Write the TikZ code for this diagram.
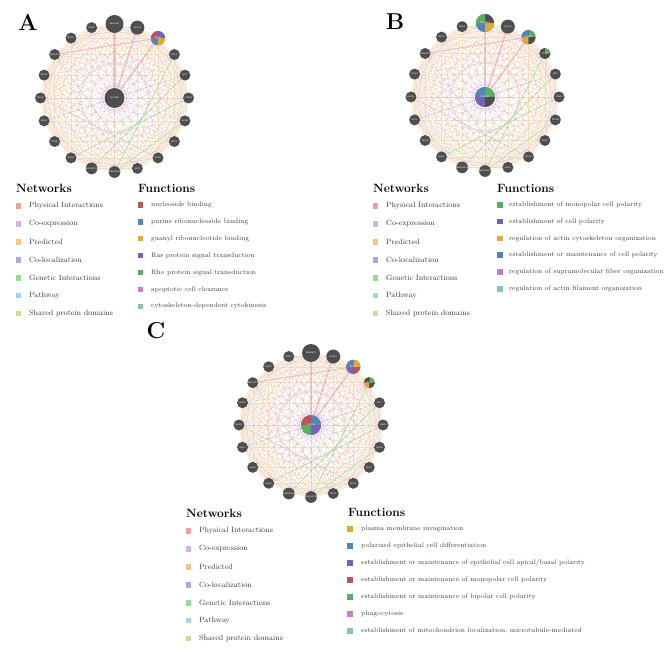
\documentclass[tikz,border=0pt]{standalone}
\usepackage{tikz}
\usetikzlibrary{backgrounds}
\definecolor{netgrey}{HTML}{4E4E4E}
\definecolor{legtext}{HTML}{3A3A3A}
% network colours
\definecolor{cPhys}{HTML}{E9A3A3}
\definecolor{cCoexp}{HTML}{D3B5DB}
\definecolor{cPred}{HTML}{F2C48C}
\definecolor{cColoc}{HTML}{A4ACDB}
\definecolor{cGenet}{HTML}{92DE8E}
\definecolor{cPath}{HTML}{9ED8E2}
\definecolor{cShared}{HTML}{DCD39C}
% function colours
\definecolor{fRed}{HTML}{B5575A}
\definecolor{fBlue}{HTML}{5585B5}
\definecolor{fOrange}{HTML}{E3A83A}
\definecolor{fPurple}{HTML}{7462B5}
\definecolor{fGreen}{HTML}{5AAE61}
\definecolor{fPink}{HTML}{C77FC4}
\definecolor{fTeal}{HTML}{83C3C0}

\begin{document}
\begin{tikzpicture}
      [x = 1pt, y = -1pt,
      edge/.style = {line width = 0.5, draw opacity = 0.5},
      gnode/.style = {
         circle,
         fill = netgrey,
         text = white,
         inner sep = 0pt,
         minimum size = 11pt,
         font = \sffamily\fontsize{2.2}{2.5}\selectfont
      },
      fnpie/.style n args = {4}{path picture = {
         \fill[#1] (path picture bounding box.center) -- ++(0:12pt) arc[start angle = 0, end angle = 90, radius = 12pt] -- cycle;
         \fill[#2] (path picture bounding box.center) -- ++(90:12pt) arc[start angle = 90, end angle = 180, radius = 12pt] -- cycle;
         \fill[#3] (path picture bounding box.center) -- ++(180:12pt) arc[start angle = 180, end angle = 270, radius = 12pt] -- cycle;
         \fill[#4] (path picture bounding box.center) -- ++(270:12pt) arc[start angle = 270, end angle = 360, radius = 12pt] -- cycle;
      }},
      piea2/.style = {fnpie = {fPurple}{fRed}{fBlue}{fOrange}},
      pieb0/.style = {fnpie = {netgrey}{fGreen}{fBlue}{fOrange}},
      pieb2/.style = {fnpie = {fGreen}{fBlue}{fOrange}{netgrey}},
      pieb3/.style = {fnpie = {fGreen}{netgrey}{netgrey}{netgrey}},
      piebc/.style = {fnpie = {fGreen}{fBlue}{fPurple}{netgrey}},
      piec2/.style = {fnpie = {fOrange}{fBlue}{fPurple}{fRed}},
      piec3/.style = {fnpie = {fGreen}{netgrey}{fOrange}{netgrey}},
      piecc/.style = {fnpie = {fBlue}{fRed}{fGreen}{fPurple}},
      square/.style = {fill = #1, inner sep = 0pt, minimum size = 5.5pt},
      title/.style = {anchor = west, inner sep = 0pt, font = \bfseries\fontsize{12}{14}\selectfont},
      netitem/.style = {anchor = west, inner sep = 0pt, text = legtext, font = \fontsize{7.6}{9}\selectfont},
      fnitem/.style = {anchor = west, inner sep = 0pt, text = legtext, font = \fontsize{6.6}{8}\selectfont},
      panel/.style = {inner sep = 0pt, font = \bfseries\fontsize{23}{26}\selectfont}]

      \useasboundingbox (0, 0) rectangle (669, 655);

      % panel letters
      \node[panel] (labA) at (28, 22) {A};
      \node[panel] (labB) at (395, 22) {B};
      \node[panel] (labC) at (156, 331) {C};

      % the three networks
      \foreach \p/\cx/\cy/\rr in {a/114.5/98/74, b/485/97/74, c/311/425/72} {
         \begin{scope}[shift = {(\cx, \cy)}]
            \node[gnode, minimum size = 20pt, pie\p c/.try] (\p c) at (0, 0) {MYO9B};
            \foreach \i/\lab/\sz in {0/ARHGEF1/18, 1/NAA10/14, 2/RHOA/14, 3/CDC42/11,
                  4/MYC/11, 5/CAB39/11, 6/RHOB/11, 7/RHOC/11, 8/RHOD/11, 9/RHOF/11,
                  10/ARHGAP35/11, 11/ARHGAP10/11, 12/RHOG/11, 13/RHOH/11, 14/RHOJ/11,
                  15/RHOQ/11, 16/RHOU/11, 17/ARHGAP1/11, 18/RHOV/11, 19/RND3/11} {
               \pgfmathsetmacro\ang{-90 + 18*\i}
               \node[gnode, minimum size = \sz pt, pie\p\i/.try] (\p\i) at (\ang:\rr) {\lab};
            }
            \begin{pgfonlayer}{background}
               \foreach \i in {0,...,19} {
                  \foreach \k/\col in {1/cShared, 2/cPred, 3/cPhys, 4/cShared, 5/cPred, 6/cPred, 7/cPhys, 8/cShared, 9/cCoexp} {
                     \pgfmathtruncatemacro\j{mod(\i + \k, 20)}
                     \draw[edge, draw = \col] (\p\i) -- (\p\j);
                  }
                  \draw[edge, draw = cPhys] (\p c) -- (\p\i);
               }
               \draw[edge, draw = cColoc, draw opacity = 0.35] (\p8) -- (\p15) (\p9) -- (\p17) (\p14) -- (\p4);
               \draw[edge, draw = cPhys, line width = 2.6] (\p c) -- (\p0);
               \draw[edge, draw = cPhys, line width = 1.8] (\p c) -- (\p1);
               \draw[edge, draw = cPhys, line width = 1.8] (\p c) -- (\p2);
               \draw[edge, draw = cPhys, line width = 1.2] (\p2) -- (\p17);
               \draw[edge, draw = cGenet, line width = 0.9] (\p4) -- (\p11);
               \draw[edge, draw = cGenet, line width = 0.9] (\p5) -- (\p12);
               \draw[edge, draw = cGenet, line width = 0.9] (\p3) -- (\p10);
               \draw[edge, draw = cGenet, line width = 0.9] (\p6) -- (\p10);
            \end{pgfonlayer}
         \end{scope}
      }

      % legends: networks
      \foreach \p/\x/\y in {a/16/188, b/373/188, c/186/513} {
         \node[title] (\p nt) at (\x, \y) {Networks};
         \foreach \lab/\col [count = \n] in {Physical Interactions/cPhys, Co-expression/cCoexp,
               Predicted/cPred, Co-localization/cColoc, Genetic Interactions/cGenet,
               Pathway/cPath, Shared protein domains/cShared} {
            \node[square = \col] (\p ns\n) at (\x + 2.5, \y + 0.3 + 17.9*\n) {};
            \node[netitem] (\p n\n) at (\x + 13, \y + 17.9*\n) {\lab};
         }
      }

      % legends: functions
      \node[title] (aft) at (138, 188) {Functions};
      \foreach \lab/\col [count = \n] in {nucleoside binding/fRed, purine ribonucleoside binding/fBlue,
            guanyl ribonucleotide binding/fOrange, Ras protein signal transduction/fPurple,
            Rho protein signal transduction/fGreen, apoptotic cell clearance/fPink,
            cytoskeleton-dependent cytokinesis/fTeal} {
         \node[square = \col] (afs\n) at (140.5, 188 + 16.9*\n) {};
         \node[fnitem] (af\n) at (151, 188 + 16.9*\n) {\lab};
      }

      \node[title] (bft) at (497, 188) {Functions};
      \foreach \lab/\col [count = \n] in {establishment of monopolar cell polarity/fGreen,
            establishment of cell polarity/fPurple, regulation of actin cytoskeleton organization/fOrange,
            establishment or maintenance of cell polarity/fBlue,
            regulation of supramolecular fiber organization/fPink,
            regulation of actin filament organization/fTeal} {
         \node[square = \col] (bfs\n) at (500, 188 + 16.8*\n) {};
         \node[fnitem] (bf\n) at (509, 188 + 16.8*\n) {\lab};
      }

      \node[title] (cft) at (348, 512) {Functions};
      \foreach \lab/\col [count = \n] in {plasma membrane invagination/fOrange,
            polarized epithelial cell differentiation/fBlue,
            {establishment or maintenance of epithelial cell apical/basal polarity}/fPurple,
            establishment or maintenance of monopolar cell polarity/fRed,
            establishment or maintenance of bipolar cell polarity/fGreen,
            phagocytosis/fPink,
            {establishment of mitochondrion localization, microtubule-mediated}/fTeal} {
         \node[square = \col] (cfs\n) at (350, 512 + 17*\n) {};
         \node[fnitem] (cf\n) at (361, 512 + 17*\n) {\lab};
      }

   \end{tikzpicture}
\end{document}
